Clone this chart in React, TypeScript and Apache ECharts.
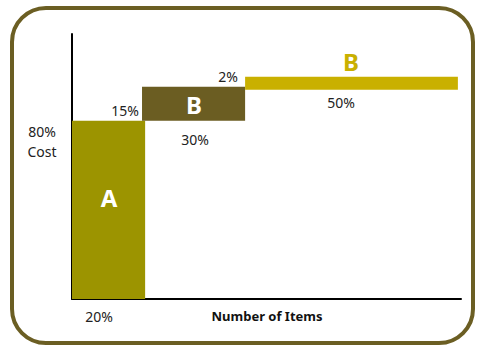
import React, { useEffect, useRef } from "react";
import * as echarts from "echarts";

// Segment data (drawn extents, in % of items on x and % of cost on y)
const segmentNames = ["A", "B", "C"];
const itemFrom = [0, 18, 44.5];
const itemTo = [18.8, 44.5, 99.2];
const costFrom = [0, 80, 94];
const costTo = [80, 95.3, 99.8];
const segmentColors = ["#9c9400", "#6b5d22", "#c9b000"];

// Annotation texts
const costLabels = ["80%", "15%", "2%"];
const itemLabels = ["20%", "30%", "50%"];
const classLetters = ["A", "B", "B"];
const xAxisTitle = "Number of Items";
const yAxisTitle = "Cost";

const FONT = "'Noto Sans', sans-serif";

export default function App() {
  const ref = useRef<HTMLDivElement>(null);
  useEffect(() => {
    if (!ref.current) return;
    const chart = echarts.init(ref.current, null, { renderer: "svg" });
    const data = segmentNames.map((n, i) => [itemFrom[i], itemTo[i], costFrom[i], costTo[i], i]);
    const pct = (x: number, y: number, t: string, align: string = "center", extra: any = {}) => ({
      type: "text",
      x,
      y,
      style: {
        text: t,
        fill: "#222",
        font: `14px ${FONT}`,
        align,
        verticalAlign: "middle",
        ...extra,
      },
    });
    chart.setOption({
      animation: false,
      grid: { left: 72, right: 17, top: 34, bottom: 47 },
      xAxis: {
        type: "value",
        min: 0,
        max: 100,
        axisLine: { show: true, lineStyle: { color: "#000", width: 2 } },
        axisTick: { show: false },
        axisLabel: { show: false },
        splitLine: { show: false },
      },
      yAxis: {
        type: "value",
        min: 0,
        max: 119,
        axisLine: { show: true, lineStyle: { color: "#000", width: 2 } },
        axisTick: { show: false },
        axisLabel: { show: false },
        splitLine: { show: false },
      },
      series: [
        {
          type: "custom",
          data,
          renderItem: (params: any, api: any) => {
            const x0 = api.value(0);
            const x1 = api.value(1);
            const y0 = api.value(2);
            const y1 = api.value(3);
            const idx = api.value(4);
            const p0 = api.coord([x0, y1]);
            const p1 = api.coord([x1, y0]);
            return {
              type: "rect",
              shape: { x: p0[0], y: p0[1], width: p1[0] - p0[0], height: p1[1] - p0[1] },
              style: { fill: segmentColors[idx] },
            };
          },
          z: 1,
        },
      ],
      graphic: [
        {
          type: "rect",
          shape: { x: 12, y: 8, width: 461, height: 335, r: 34 },
          style: { fill: "none", stroke: "#6b5e23", lineWidth: 4 },
          silent: true,
        },
        pct(42, 131, costLabels[0]),
        pct(42, 151, yAxisTitle),
        pct(139, 110, costLabels[1], "right"),
        pct(238, 76, costLabels[2], "right"),
        pct(99, 316, itemLabels[0]),
        pct(195, 139, itemLabels[1]),
        pct(341, 102, itemLabels[2]),
        {
          type: "text",
          x: 267,
          y: 316,
          style: {
            text: xAxisTitle,
            fill: "#111",
            font: `bold 13px ${FONT}`,
            align: "center",
            verticalAlign: "middle",
          },
        },
        {
          type: "text",
          x: 109,
          y: 197,
          z: 10,
          style: {
            text: classLetters[0],
            fill: "#fff",
            font: `bold 24px ${FONT}`,
            align: "center",
            verticalAlign: "middle",
          },
        },
        {
          type: "text",
          x: 194,
          y: 104,
          z: 10,
          style: {
            text: classLetters[1],
            fill: "#fff",
            font: `bold 24px ${FONT}`,
            align: "center",
            verticalAlign: "middle",
          },
        },
        {
          type: "text",
          x: 351,
          y: 61,
          z: 10,
          style: {
            text: classLetters[2],
            fill: "#c9b000",
            font: `bold 24px ${FONT}`,
            align: "center",
            verticalAlign: "middle",
          },
        },
      ],
    });
    return () => chart.dispose();
  }, []);
  return (
    <div
      ref={ref}
      style={{ position: "fixed", left: 0, top: 0, width: 478, height: 346, background: "#fff" }}
    />
  );
}
